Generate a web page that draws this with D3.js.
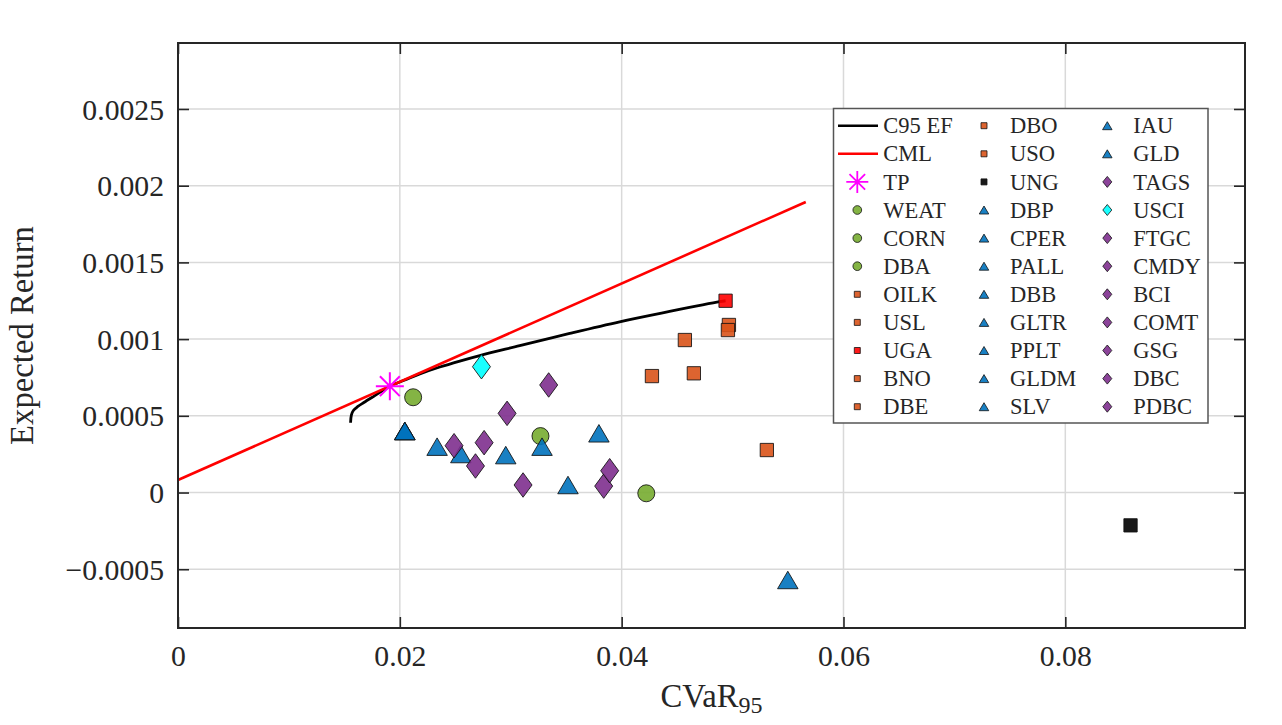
<!DOCTYPE html>
<html>
<head>
<meta charset="utf-8">
<script src="https://cdn.jsdelivr.net/npm/d3@7"></script>
<style>
  body { margin: 0; background: #fff; }
  svg { display: block; font-family: "Liberation Serif", "Times New Roman", serif; }
</style>
</head>
<body>
<div id="wrapper"></div>
<script>
// efficient frontier (C95 EF)
const efCvar = [0.015559, 0.015631, 0.015811, 0.016216, 0.016757, 0.017748, 0.019099, 0.020450,
    0.021802, 0.023604, 0.025405, 0.027207, 0.030811, 0.035315, 0.039820, 0.044324, 0.048829, 0.049369];
const efReturn = [0.000455, 0.000505, 0.000535, 0.000561, 0.000587, 0.000632, 0.000693, 0.000733,
    0.000773, 0.000818, 0.000857, 0.000893, 0.000957, 0.001037, 0.001113, 0.001180, 0.001244, 0.001250];

// capital market line
const cmlCvar = [0, 0.0566];
const cmlReturn = [0.0000815, 0.001894];

// tangency portfolio
const tpCvar = [0.0191];
const tpReturn = [0.000693];

// assets (legend order)
const assetNames = ["WEAT", "CORN", "DBA", "OILK", "USL", "UGA", "BNO", "DBE", "DBO", "USO", "UNG",
    "DBP", "CPER", "PALL", "DBB", "GLTR", "PPLT", "GLDM", "SLV", "IAU", "GLD",
    "TAGS", "USCI", "FTGC", "CMDY", "BCI", "COMT", "GSG", "DBC", "PDBC"];
const assetSector = ["agri", "agri", "agri", "energy", "energy", "energy", "energy", "energy", "energy", "energy", "energy",
    "metal", "metal", "metal", "metal", "metal", "metal", "metal", "metal", "metal", "metal",
    "broad", "broad", "broad", "broad", "broad", "broad", "broad", "broad", "broad"];
const assetCvar = [0.04222, 0.03268, 0.02120, 0.04570, 0.04273, 0.04937, 0.04967, 0.04651, 0.04958, 0.05309, 0.08588,
    0.02336, 0.03282, 0.05498, 0.03795, 0.02550, 0.03516, 0.02045, 0.02955, 0.02045, 0.02045,
    0.02682, 0.02736, 0.03111, 0.02489, 0.02760, 0.03342, 0.03838, 0.03892, 0.02967];
const assetReturn = [-0.000005, 0.000368, 0.000621, 0.000994, 0.000759, 0.001250, 0.001092, 0.000777, 0.001059, 0.000277, -0.000214,
    0.000299, 0.000299, -0.000570, 0.000386, 0.000251, 0.000049, 0.000401, 0.000244, 0.000401, 0.000401,
    0.000173, 0.000820, 0.000049, 0.000305, 0.000325, 0.000701, 0.000042, 0.000142, 0.000516];

const xTicks = [0, 0.02, 0.04, 0.06, 0.08];
const xTickLabels = ["0", "0.02", "0.04", "0.06", "0.08"];
const yTicks = [-0.0005, 0, 0.0005, 0.001, 0.0015, 0.002, 0.0025];
const yTickLabels = ["\u22120.0005", "0", "0.0005", "0.001", "0.0015", "0.002", "0.0025"];

// styles
const sectorStyle = {
    agri:   {shape: "circle",   fill: "#77AC30"},
    energy: {shape: "square",   fill: "#D95319"},
    metal:  {shape: "triangle", fill: "#0072BD"},
    broad:  {shape: "diamond",  fill: "#7E2F8E"}
};
const fillOverride = {UGA: "#FF0000", UNG: "#000000", USCI: "#00FFFF"};
const plotSize = {circle: [17, 17], square: [13.3, 13.3], triangle: [20.5, 17.5], diamond: [18, 24.5]};
const legendSize = {circle: [8.7, 8.7], square: [6, 6], triangle: [9.5, 8], diamond: [9, 11]};

function markerPath(shape, w, h) {
    if (shape === "circle") {
        const r = w / 2;
        return `M${-r},0A${r},${r} 0 1,0 ${r},0A${r},${r} 0 1,0 ${-r},0Z`;
    }
    if (shape === "square") return `M${-w/2},${-h/2}H${w/2}V${h/2}H${-w/2}Z`;
    if (shape === "triangle") return `M0,${-h/2}L${w/2},${h/2}L${-w/2},${h/2}Z`;
    return `M0,${-h/2}L${w/2},0L0,${h/2}L${-w/2},0Z`;
}
function starPath(r) {
    const d = r * 0.71;
    return `M${-r},0H${r}M0,${-r}V${r}M${-d},${-d}L${d},${d}M${-d},${d}L${d},${-d}`;
}

const dimension = {
    width: 1282,
    height: 725,
    margin: {top: 43, left: 178, bottom: 97, right: 37}
};
dimension.boundedWidth = dimension.width - dimension.margin.left - dimension.margin.right;
dimension.boundedHeight = dimension.height - dimension.margin.top - dimension.margin.bottom;

const svg = d3.select("#wrapper").append("svg")
    .attr("width", dimension.width)
    .attr("height", dimension.height);

const bounds = svg.append("g")
    .attr("transform", `translate(${dimension.margin.left},${dimension.margin.top})`);

const xScaler = d3.scaleLinear()
    .domain([0, 0.0962])
    .range([0, dimension.boundedWidth]);
const yScaler = d3.scaleLinear()
    .domain([-0.000883, 0.00293])
    .range([dimension.boundedHeight, 0]);

// grid
bounds.append("g").selectAll("line")
    .data(xTicks)
    .join("line")
    .attr("x1", d => xScaler(d)).attr("x2", d => xScaler(d))
    .attr("y1", 0).attr("y2", dimension.boundedHeight)
    .attr("stroke", "#d9d9d9").attr("stroke-width", 1.5);
bounds.append("g").selectAll("line")
    .data(yTicks)
    .join("line")
    .attr("x1", 0).attr("x2", dimension.boundedWidth)
    .attr("y1", d => yScaler(d)).attr("y2", d => yScaler(d))
    .attr("stroke", "#d9d9d9").attr("stroke-width", 1.5);

// frontier and CML
const lineGen = d3.line()
    .x(d => xScaler(d[0]))
    .y(d => yScaler(d[1]));
bounds.append("path")
    .datum(d3.zip(efCvar, efReturn))
    .attr("d", lineGen.curve(d3.curveCatmullRom.alpha(0.5)))
    .attr("fill", "none")
    .attr("stroke", "#000")
    .attr("stroke-width", 2.8);
bounds.append("path")
    .datum(d3.zip(cmlCvar, cmlReturn))
    .attr("d", d3.line().x(d => xScaler(d[0])).y(d => yScaler(d[1])))
    .attr("fill", "none")
    .attr("stroke", "#FF0000")
    .attr("stroke-width", 2.6);

// tangency portfolio
bounds.append("g").selectAll("path")
    .data(d3.zip(tpCvar, tpReturn))
    .join("path")
    .attr("transform", d => `translate(${xScaler(d[0])},${yScaler(d[1])})`)
    .attr("d", starPath(14))
    .attr("stroke", "#FF00FF")
    .attr("stroke-width", 2);

// assets
const assets = assetNames.map((name, i) => ({
    name: name,
    sector: assetSector[i],
    cvar: assetCvar[i],
    ret: assetReturn[i]
}));
bounds.append("g").selectAll("path")
    .data(assets)
    .join("path")
    .attr("transform", d => `translate(${xScaler(d.cvar)},${yScaler(d.ret)})`)
    .attr("d", d => {
        const shape = sectorStyle[d.sector].shape;
        return markerPath(shape, plotSize[shape][0], plotSize[shape][1]);
    })
    .attr("fill", d => fillOverride[d.name] || sectorStyle[d.sector].fill)
    .attr("fill-opacity", 0.9)
    .attr("stroke", "#111")
    .attr("stroke-opacity", 0.85)
    .attr("stroke-width", 1);

// box + ticks
bounds.append("rect")
    .attr("width", dimension.boundedWidth)
    .attr("height", dimension.boundedHeight)
    .attr("fill", "none")
    .attr("stroke", "#262626")
    .attr("stroke-width", 2);

const yAxis = bounds.append("g")
    .call(d3.axisLeft(yScaler).tickValues(yTicks).tickSize(-11).tickPadding(14)
        .tickFormat((d, i) => yTickLabels[i]));
const xAxis = bounds.append("g")
    .attr("transform", `translate(0,${dimension.boundedHeight})`)
    .call(d3.axisBottom(xScaler).tickValues(xTicks).tickSize(-11).tickPadding(17)
        .tickFormat((d, i) => xTickLabels[i]));
bounds.append("g")
    .attr("transform", `translate(${dimension.boundedWidth},0)`)
    .call(d3.axisRight(yScaler).tickValues(yTicks).tickSize(-11).tickFormat(""));
bounds.append("g")
    .call(d3.axisTop(xScaler).tickValues(xTicks).tickSize(-11).tickFormat(""));

bounds.selectAll(".domain").remove();
bounds.selectAll(".tick line").attr("stroke", "#262626").attr("stroke-width", 1.6);
bounds.selectAll(".tick text")
    .attr("fill", "#262626")
    .attr("font-family", "'Liberation Serif', 'Times New Roman', serif")
    .attr("font-size", "29.7px");
yAxis.selectAll(".tick text").attr("dy", "0.34em");

// axis labels
const xLabel = svg.append("text")
    .attr("x", dimension.margin.left + dimension.boundedWidth / 2)
    .attr("y", 706.7)
    .attr("text-anchor", "middle")
    .attr("fill", "#262626")
    .style("font-size", "32.7px");
xLabel.append("tspan").text("CVaR");
xLabel.append("tspan").attr("dy", 6).style("font-size", "24px").text("95");

svg.append("text")
    .attr("transform", `translate(33,${dimension.margin.top + dimension.boundedHeight / 2}) rotate(-90)`)
    .attr("text-anchor", "middle")
    .attr("fill", "#262626")
    .style("font-size", "32.7px")
    .text("Expected Return");

// legend
const legendItems = [
    {label: "C95 EF", kind: "line", color: "#000"},
    {label: "CML", kind: "line", color: "#FF0000"},
    {label: "TP", kind: "star", color: "#FF00FF"}
].concat(assets.map(d => ({
    label: d.name,
    kind: sectorStyle[d.sector].shape,
    color: fillOverride[d.name] || sectorStyle[d.sector].fill
})));

const legend = svg.append("g");
legend.append("rect")
    .attr("x", 833.5).attr("y", 108.5)
    .attr("width", 374.5).attr("height", 314.5)
    .attr("fill", "#fff")
    .attr("stroke", "#555")
    .attr("stroke-width", 1.5);

const colX = [857.3, 984, 1107.3];
const textX = [883.3, 1010, 1133.3];
const rowCount = 11;
const legendRows = legend.selectAll("g.item")
    .data(legendItems)
    .join("g")
    .attr("class", "item")
    .attr("transform", (d, i) => `translate(0,${125.7 + (i % rowCount) * 28.1})`);

legendRows.each(function(d, i) {
    const g = d3.select(this);
    const col = Math.floor(i / rowCount);
    if (d.kind === "line") {
        g.append("line")
            .attr("x1", 838).attr("x2", 878)
            .attr("stroke", d.color).attr("stroke-width", 2.6);
    } else if (d.kind === "star") {
        g.append("path")
            .attr("transform", `translate(${colX[col]},0)`)
            .attr("d", starPath(11))
            .attr("stroke", d.color).attr("stroke-width", 1.8);
    } else {
        g.append("path")
            .attr("transform", `translate(${colX[col]},0)`)
            .attr("d", markerPath(d.kind, legendSize[d.kind][0], legendSize[d.kind][1]))
            .attr("fill", d.color)
            .attr("fill-opacity", 0.9)
            .attr("stroke", "#111")
            .attr("stroke-width", 0.8);
    }
    g.append("text")
        .attr("x", textX[col])
        .attr("dy", "0.34em")
        .attr("fill", "#262626")
        .style("font-size", "22.5px")
        .text(d.label);
});
</script>
</body>
</html>
